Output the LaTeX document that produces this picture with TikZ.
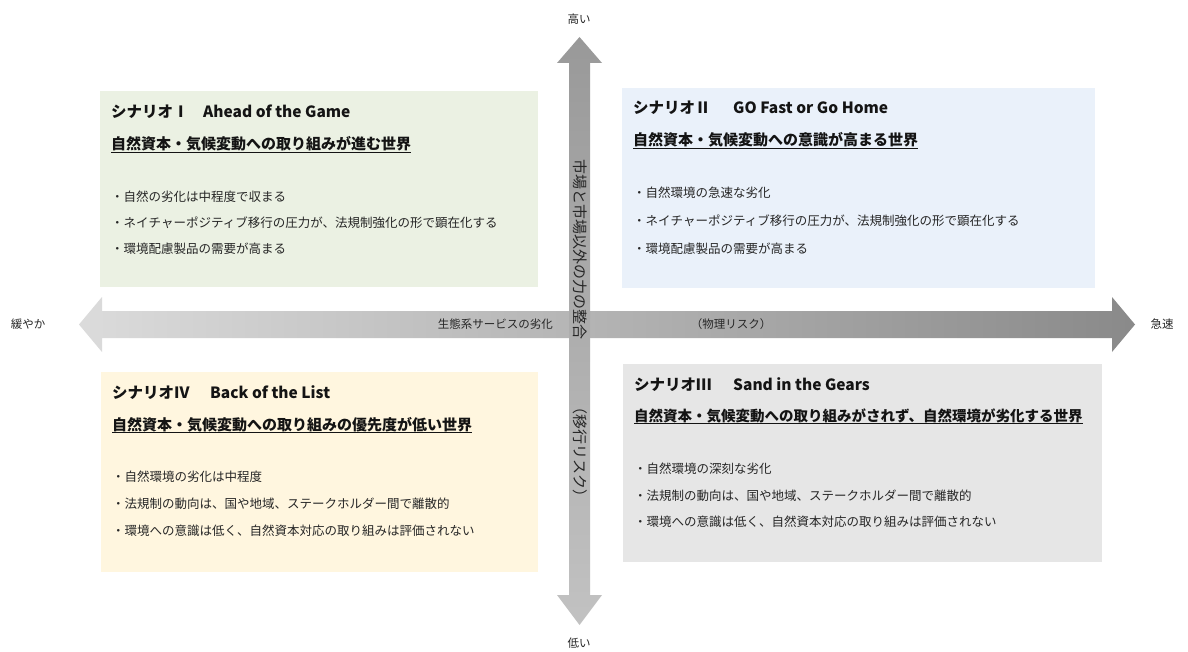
\documentclass[tikz,border=0pt]{standalone}
\usepackage{fontspec}
\setmainfont{Noto Sans CJK JP}
\definecolor{boxI}{HTML}{EBF1E3}
\definecolor{boxII}{HTML}{EAF1FA}
\definecolor{boxIII}{HTML}{E6E6E6}
\definecolor{boxIV}{HTML}{FFF6DF}
\definecolor{txt}{HTML}{262626}
\definecolor{ttl}{HTML}{141414}
\begin{document}
\begin{tikzpicture}[x=1pt,y=-1pt,
  qbox/.style={draw=none,inner sep=0pt,anchor=north west},
  ttext/.style={anchor=base west,inner sep=0pt,text=ttl,font=\fontsize{15.5}{18}\selectfont\bfseries},
  stext/.style={anchor=base west,inner sep=0pt,text=ttl,font=\fontsize{15}{18}\selectfont\bfseries},
  btext/.style={anchor=base west,inner sep=0pt,text=txt,font=\fontsize{12.5}{15}\selectfont},
  axlabel/.style={inner sep=0pt,text=txt,font=\fontsize{11.5}{13}\selectfont},
  arrlabel/.style={inner sep=0pt,text=txt,font=\fontsize{11.5}{14}\selectfont},
  vlabel/.style={inner sep=0pt,text=txt,rotate=-90,font=\fontsize{15}{17}\selectfont},
  uline/.style={ttl,line width=1.3pt}]
\useasboundingbox (0,0) rectangle (1188,652);
\fill[white] (0,0) rectangle (1188,652);

% quadrant boxes
\node[qbox,fill=boxI,minimum width=438pt,minimum height=196pt] (bI) at (100,91) {};
\node[qbox,fill=boxII,minimum width=473pt,minimum height=200pt] (bII) at (622,88) {};
\node[qbox,fill=boxIV,minimum width=437pt,minimum height=200pt] (bIV) at (101,372) {};
\node[qbox,fill=boxIII,minimum width=479pt,minimum height=198pt] (bIII) at (623,364) {};

% horizontal double arrow (gradient)
\shade[left color=black!14,right color=black!46]
  (79,324.5) -- (102,297) -- (102,311) -- (1112,311) -- (1112,297) -- (1135,324.5)
  -- (1112,352) -- (1112,338) -- (102,338) -- (102,352) -- cycle;
% vertical double arrow
\shade[top color=black!40,bottom color=black!24]
  (579.5,37) -- (602,63) -- (590,63) -- (590,595) -- (602,595) -- (579.5,625)
  -- (557,595) -- (569,595) -- (569,63) -- (557,63) -- cycle;

% axis end labels
\node[axlabel] (hi) at (579,19) {高い};
\node[axlabel] (lo) at (579,643) {低い};
\node[axlabel] (slow) at (28,324) {緩やか};
\node[axlabel] (fast) at (1162,324) {急速};

% labels on arrows
\node[arrlabel,anchor=east] (eco) at (553,324) {生態系サービスの劣化};
\node[arrlabel] (phys) at (731,324) {（物理リスク）};
\node[vlabel] (mkt) at (580,250) {市場と市場以外の力の整合};
\node[vlabel] (trans) at (580,452) {（移行リスク）};

% Scenario I
\node[ttext] (tI) at (111,118) {シナリオⅠ};
\node[ttext] (eI) at (203,118) {Ahead of the Game};
\node[stext] (sI) at (111,150) {自然資本・気候変動への取り組みが進む世界};
\draw[uline] ([yshift=-2.5pt]sI.base west) -- ([yshift=-2.5pt]sI.base east);
\node[btext] (I1) at (111,202) {・自然の劣化は中程度で収まる};
\node[btext] (I2) at (111,228) {・ネイチャーポジティブ移行の圧力が、法規制強化の形で顕在化する};
\node[btext] (I3) at (111,254) {・環境配慮製品の需要が高まる};

% Scenario II
\node[ttext] (tII) at (633,114) {シナリオⅡ};
\node[ttext] (eII) at (733,114) {GO Fast or Go Home};
\node[stext] (sII) at (633,146) {自然資本・気候変動への意識が高まる世界};
\draw[uline] ([yshift=-2.5pt]sII.base west) -- ([yshift=-2.5pt]sII.base east);
\node[btext] (II1) at (633,198) {・自然環境の急速な劣化};
\node[btext] (II2) at (633,226) {・ネイチャーポジティブ移行の圧力が、法規制強化の形で顕在化する};
\node[btext] (II3) at (633,254) {・環境配慮製品の需要が高まる};

% Scenario IV
\node[ttext] (tIV) at (112,398) {シナリオⅣ};
\node[ttext] (eIV) at (210,398) {Back of the List};
\node[stext] (sIV) at (112,430) {自然資本・気候変動への取り組みの優先度が低い世界};
\draw[uline] ([yshift=-2.5pt]sIV.base west) -- ([yshift=-2.5pt]sIV.base east);
\node[btext] (IV1) at (112,481) {・自然環境の劣化は中程度};
\node[btext] (IV2) at (112,508) {・法規制の動向は、国や地域、ステークホルダー間で離散的};
\node[btext] (IV3) at (112,535) {・環境への意識は低く、自然資本対応の取り組みは評価されない};

% Scenario III
\node[ttext] (tIII) at (634,390) {シナリオⅢ};
\node[ttext] (eIII) at (733,390) {Sand in the Gears};
\node[stext,font=\fontsize{14.5}{18}\selectfont\bfseries] (sIII) at (634,421) {自然資本・気候変動への取り組みがされず、自然環境が劣化する世界};
\draw[uline] ([yshift=-2.5pt]sIII.base west) -- ([yshift=-2.5pt]sIII.base east);
\node[btext] (III1) at (634,473) {・自然環境の深刻な劣化};
\node[btext] (III2) at (634,500) {・法規制の動向は、国や地域、ステークホルダー間で離散的};
\node[btext] (III3) at (634,526) {・環境への意識は低く、自然資本対応の取り組みは評価されない};
\end{tikzpicture}
\end{document}
